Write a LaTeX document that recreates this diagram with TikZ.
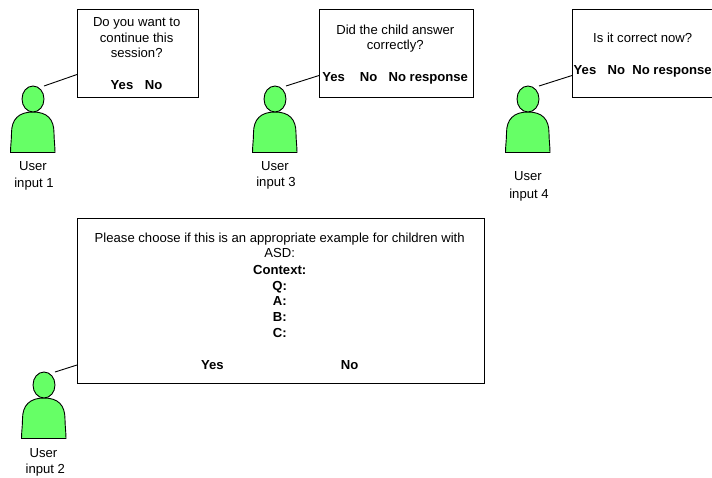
\documentclass[tikz,border=0pt]{standalone}
\usepackage{fontspec}
\setmainfont{Liberation Sans}
\definecolor{personfill}{HTML}{66FF66}
\usetikzlibrary{shapes.geometric}
\tikzset{
  x=1pt,y=-1pt,
  shapeline/.style={draw=black,line width=0.9pt},
  box/.style={shapeline,fill=white,anchor=north west,inner sep=0pt},
  lbl/.style={font=\fontsize{13.1}{13.1}\selectfont,inner sep=0pt,anchor=center,text height=9.5pt,text depth=0pt},
  blbl/.style={lbl,font=\fontsize{13.1}{13.1}\selectfont\bfseries},
  persona/.style={shapeline,fill=personfill,line join=round},
  pics/person/.style={code={
    \draw[persona] (-22.5,66.5) .. controls (-22.5,60) and (-21.5,54) .. (-21.5,47)
      .. controls (-21.5,33) and (-14,26) .. (0,26)
      .. controls (14,26) and (21,33) .. (21,47)
      .. controls (21,54) and (22,60) .. (22,66.5) -- cycle;
    \node[persona,ellipse,minimum width=22pt,minimum height=26pt,inner sep=0pt] (-head) at (0,13) {};
  }}
}
\begin{document}
\begin{tikzpicture}
\useasboundingbox (0,0) rectangle (712,477);
% boxes
\node[box,minimum width=121pt,minimum height=88pt] (b1) at (77,9) {};
\node[box,minimum width=154pt,minimum height=88pt] (b3) at (319,9) {};
\node[box,minimum width=145pt,minimum height=88pt] (b4) at (572,9) {};
\node[box,minimum width=407pt,minimum height=165pt] (b2) at (77,218) {};
% persons
\pic (p1) at (33,86) {person};
\pic (p3) at (275,86) {person};
\pic (p4) at (528,86) {person};
\pic (p2) at (44,372) {person};
% connector ends
\coordinate (c1) at (77,74.5);
\coordinate (c3) at (319,75.5);
\coordinate (c4) at (572,75.5);
\coordinate (c2) at (77,365);
\coordinate (h1) at (44,86);
\coordinate (h3) at (286,86);
\coordinate (h4) at (539,86);
\coordinate (h2) at (55,372);
\draw[shapeline] (h1) -- (c1);
\draw[shapeline] (h3) -- (c3);
\draw[shapeline] (h4) -- (c4);
\draw[shapeline] (h2) -- (c2);
% box 1
\node[lbl] (t1a) at (136.7,22) {Do you want to};
\node[lbl] (t1b) at (136.7,37.5) {continue this};
\node[lbl] (t1c) at (136.7,53) {session?};
\node[blbl] (t1y) at (122,84.7) {Yes};
\node[blbl] (t1n) at (153.7,84.7) {No};
% box 3
\node[lbl] (t3a) at (395.3,29.5) {Did the child answer};
\node[lbl] (t3b) at (395.3,45) {correctly?};
\node[blbl] (t3y) at (333.7,76.7) {Yes};
\node[blbl] (t3n) at (368.7,76.7) {No};
\node[blbl] (t3r) at (428.3,76.7) {No response};
% box 4
\node[lbl] (t4a) at (642.7,37.7) {Is it correct now?};
\node[blbl] (t4y) at (585,69.7) {Yes};
\node[blbl] (t4n) at (616.3,69.7) {No};
\node[blbl] (t4r) at (672,69.7) {No response};
% box 2
\node[lbl] (t2a) at (279.7,237.7) {Please choose if this is an appropriate example for children with};
\node[lbl] (t2b) at (279.7,252.3) {ASD:};
\node[blbl] (t2c) at (279.7,270) {Context:};
\node[blbl] (t2q) at (279.7,285.3) {Q:};
\node[blbl] (t2e) at (279.7,300.7) {A:};
\node[blbl] (t2f) at (279.7,316.7) {B:};
\node[blbl] (t2g) at (279.7,332.3) {C:};
\node[blbl] (t2y) at (212.3,364.7) {Yes};
\node[blbl] (t2n) at (349.7,364.7) {No};
% person labels
\node[lbl] (u1a) at (33,165.7) {User};
\node[lbl] (u1b) at (34,182.7) {input 1};
\node[lbl] (u3a) at (275,165.3) {User};
\node[lbl] (u3b) at (276,182) {input 3};
\node[lbl] (u4a) at (528,176) {User};
\node[lbl] (u4b) at (529,193.3) {input 4};
\node[lbl] (u2a) at (43.5,452.7) {User};
\node[lbl] (u2b) at (45.3,468.7) {input 2};
\end{tikzpicture}
\end{document}
